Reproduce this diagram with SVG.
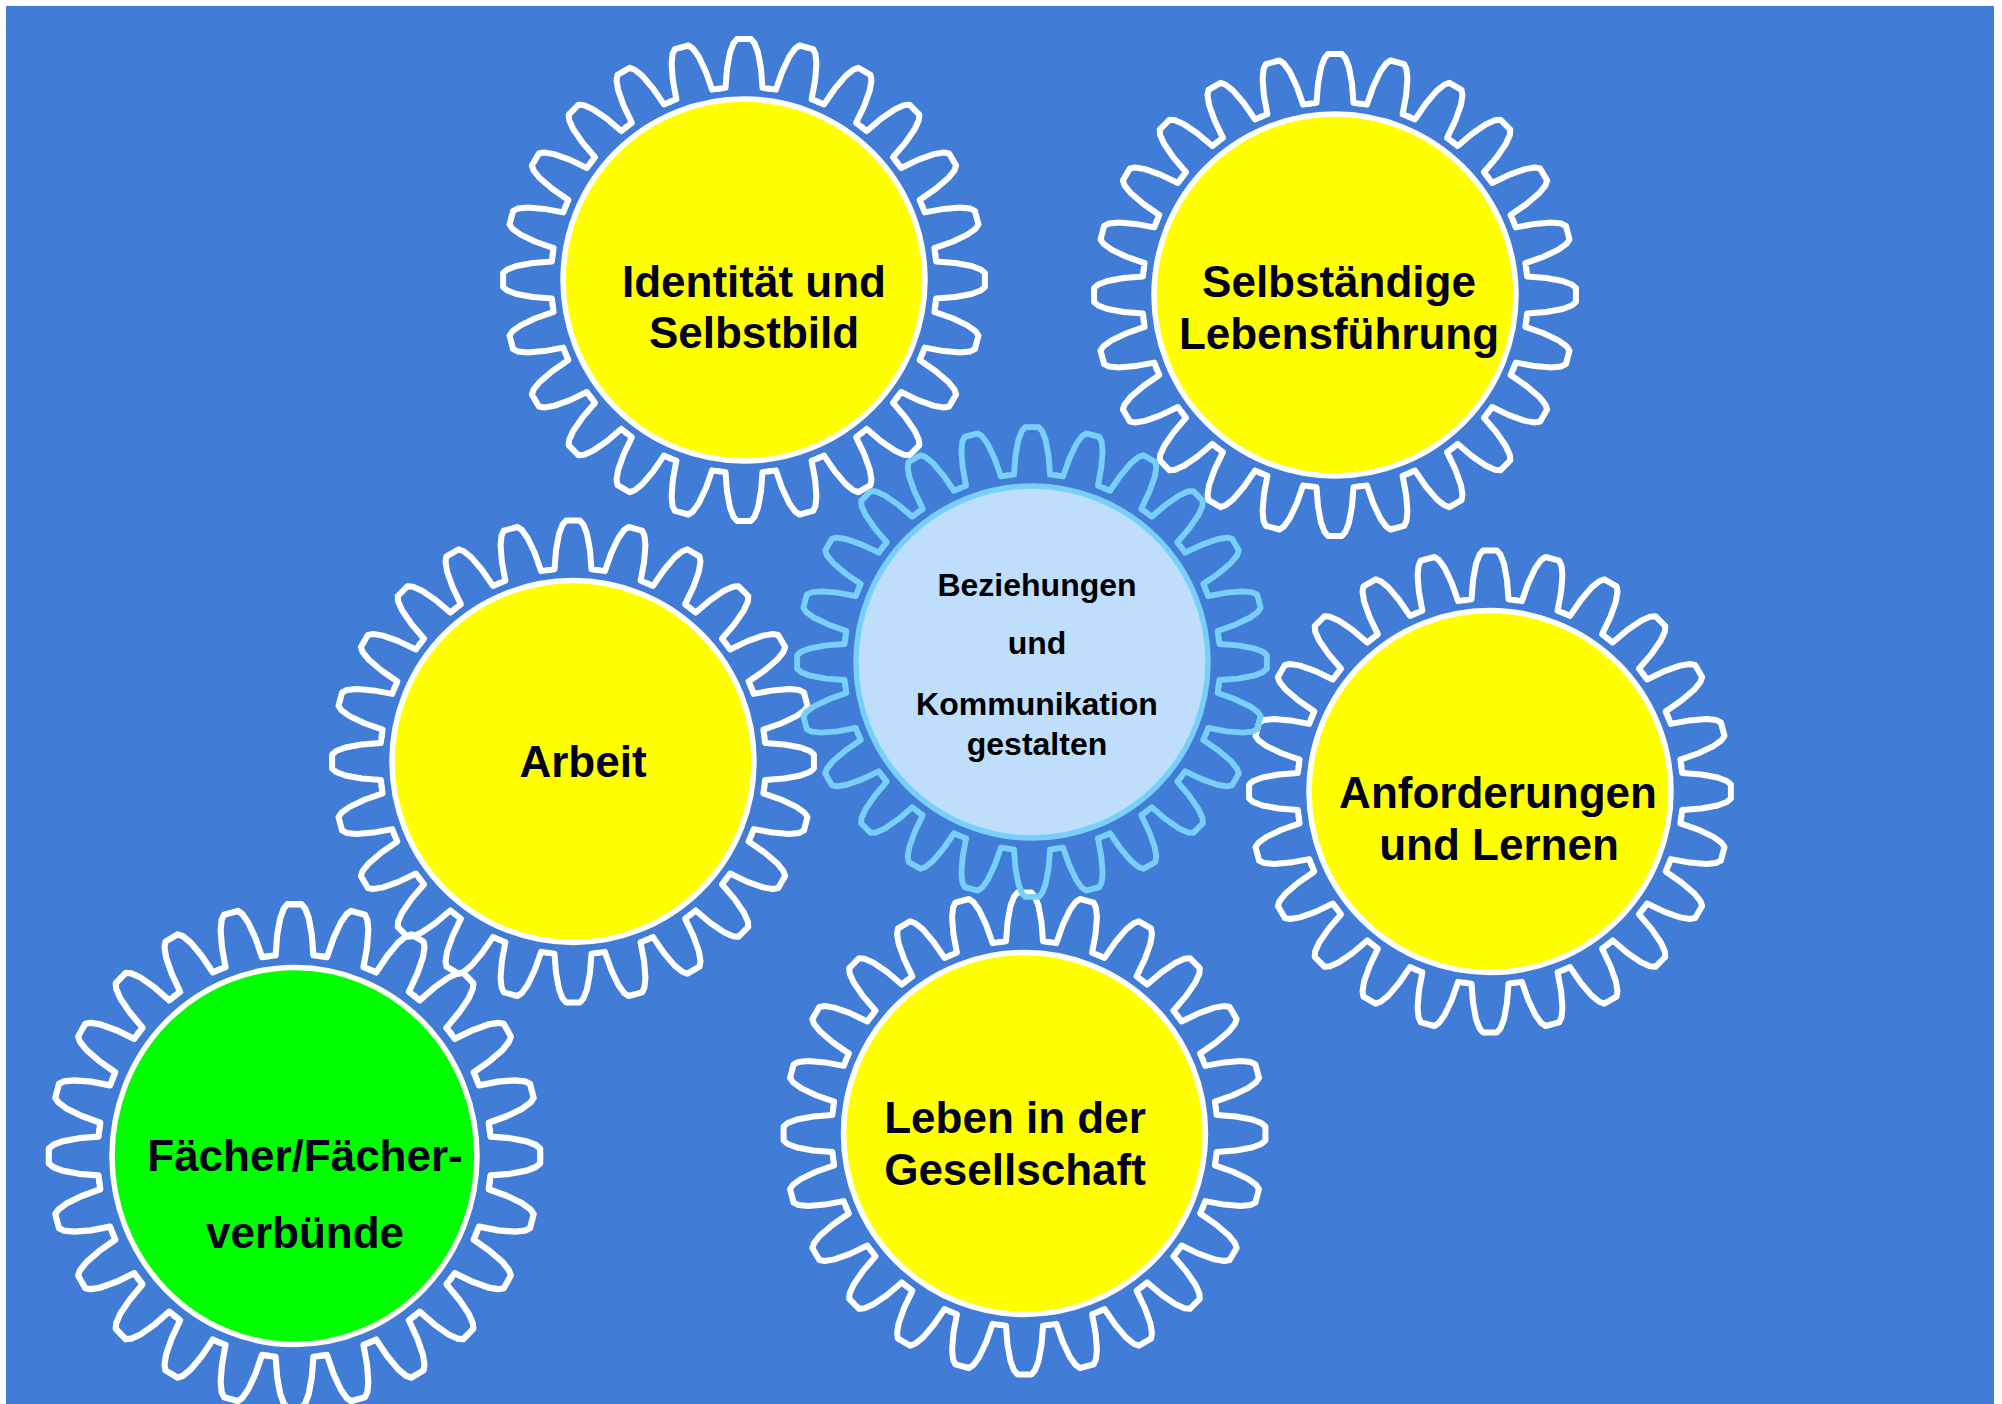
<svg xmlns="http://www.w3.org/2000/svg" xmlns:xlink="http://www.w3.org/1999/xlink" width="2002" height="1404" viewBox="0 0 2002 1404">
<style>
.teeth{fill:none;stroke:#ffffff;stroke-width:6;stroke-linejoin:round;stroke-linecap:round}
.teethc{fill:none;stroke:#78d0fa;stroke-width:6;stroke-linejoin:round;stroke-linecap:round}
.disc{fill:#ffff00;stroke:#ffffff;stroke-width:5.5}
.discg{fill:#00ff00;stroke:#ffffff;stroke-width:5.5}
.discc{fill:#bedefb;stroke:#78d0fa;stroke-width:5.5}
.lbl{font-family:"Liberation Sans",Arial,sans-serif;font-weight:bold;font-size:44px;fill:#000018;text-anchor:middle}
.lblc{font-family:"Liberation Sans",Arial,sans-serif;font-weight:bold;font-size:32px;fill:#000000;text-anchor:middle}
</style>
<defs>
<path id="tooth" d="M-25.19,-191.35 L-18.5,-192.11 L-17,-211.32 L-14,-227.57 L-10.5,-236.77 L-7,-240.9 L7,-240.9 L10.5,-236.77 L14,-227.57 L17,-211.32 L18.5,-192.11 L25.19,-191.35"/>
<g id="gear">
<use xlink:href="#tooth" href="#tooth"/>
<use xlink:href="#tooth" href="#tooth" transform="rotate(15)"/>
<use xlink:href="#tooth" href="#tooth" transform="rotate(30)"/>
<use xlink:href="#tooth" href="#tooth" transform="rotate(45)"/>
<use xlink:href="#tooth" href="#tooth" transform="rotate(60)"/>
<use xlink:href="#tooth" href="#tooth" transform="rotate(75)"/>
<use xlink:href="#tooth" href="#tooth" transform="rotate(90)"/>
<use xlink:href="#tooth" href="#tooth" transform="rotate(105)"/>
<use xlink:href="#tooth" href="#tooth" transform="rotate(120)"/>
<use xlink:href="#tooth" href="#tooth" transform="rotate(135)"/>
<use xlink:href="#tooth" href="#tooth" transform="rotate(150)"/>
<use xlink:href="#tooth" href="#tooth" transform="rotate(165)"/>
<use xlink:href="#tooth" href="#tooth" transform="rotate(180)"/>
<use xlink:href="#tooth" href="#tooth" transform="rotate(195)"/>
<use xlink:href="#tooth" href="#tooth" transform="rotate(210)"/>
<use xlink:href="#tooth" href="#tooth" transform="rotate(225)"/>
<use xlink:href="#tooth" href="#tooth" transform="rotate(240)"/>
<use xlink:href="#tooth" href="#tooth" transform="rotate(255)"/>
<use xlink:href="#tooth" href="#tooth" transform="rotate(270)"/>
<use xlink:href="#tooth" href="#tooth" transform="rotate(285)"/>
<use xlink:href="#tooth" href="#tooth" transform="rotate(300)"/>
<use xlink:href="#tooth" href="#tooth" transform="rotate(315)"/>
<use xlink:href="#tooth" href="#tooth" transform="rotate(330)"/>
<use xlink:href="#tooth" href="#tooth" transform="rotate(345)"/>
</g>
</defs>
<rect x="0" y="0" width="2002" height="1404" fill="#ffffff"/>
<rect x="6" y="6" width="1988" height="1398" fill="#417dd6"/>
<g id="connectors"></g>
<g id="node-identitaet">
<use xlink:href="#gear" href="#gear" class="teeth" transform="translate(744,280)"/>
<circle class="disc" cx="744" cy="280" r="181"/>
<text class="lbl" x="754" y="297">Identität und</text>
<text class="lbl" x="754" y="348">Selbstbild</text>
</g>
<g id="node-selbstaendige">
<use xlink:href="#gear" href="#gear" class="teeth" transform="translate(1335,295)"/>
<circle class="disc" cx="1335" cy="295" r="181"/>
<text class="lbl" x="1339" y="297">Selbständige</text>
<text class="lbl" x="1339" y="349">Lebensführung</text>
</g>
<g id="node-arbeit">
<use xlink:href="#gear" href="#gear" class="teeth" transform="translate(573,761.5)"/>
<circle class="disc" cx="573" cy="761.5" r="181"/>
<text class="lbl" x="583" y="777">Arbeit</text>
</g>
<g id="node-anforderungen">
<use xlink:href="#gear" href="#gear" class="teeth" transform="translate(1490,791.5)"/>
<circle class="disc" cx="1490" cy="791.5" r="181"/>
<text class="lbl" x="1498" y="808">Anforderungen</text>
<text class="lbl" x="1499" y="860">und Lernen</text>
</g>
<g id="node-leben">
<use xlink:href="#gear" href="#gear" class="teeth" transform="translate(1024.5,1133.5)"/>
<circle class="disc" cx="1024.5" cy="1133.5" r="181"/>
<text class="lbl" x="1015" y="1133">Leben in der</text>
<text class="lbl" x="1015" y="1185">Gesellschaft</text>
</g>
<g id="node-faecher">
<use xlink:href="#gear" href="#gear" class="teeth" transform="translate(294.5,1156) scale(1.02,1.045)"/>
<ellipse class="discg" cx="294.5" cy="1156" rx="182.5" ry="188.5"/>
<text class="lbl" x="305" y="1171">Fächer/Fächer-</text>
<text class="lbl" x="305" y="1248">verbünde</text>
</g>
<g id="node-beziehungen">
<use xlink:href="#gear" href="#gear" class="teethc" transform="translate(1032,662) scale(0.975)"/>
<circle class="discc" cx="1032" cy="662" r="176"/>
<text class="lblc" x="1037" y="596">Beziehungen</text>
<text class="lblc" x="1037" y="654">und</text>
<text class="lblc" x="1037" y="715">Kommunikation</text>
<text class="lblc" x="1037" y="755">gestalten</text>
</g>
</svg>
